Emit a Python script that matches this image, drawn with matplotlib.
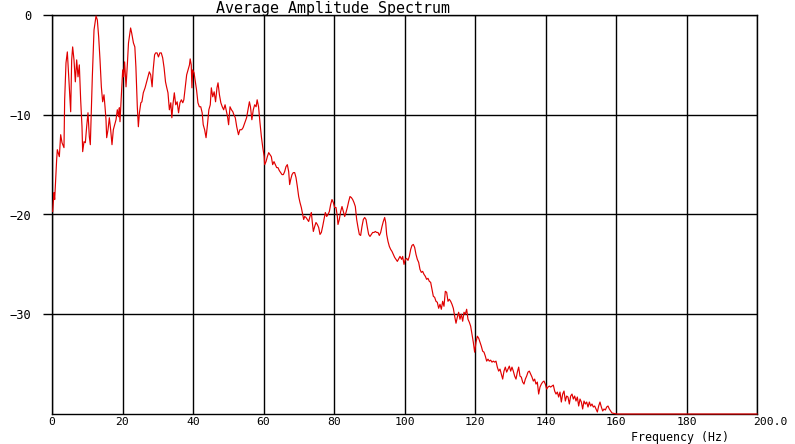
import matplotlib
matplotlib.use("Agg")
import matplotlib.pyplot as plt
import numpy as np

# ---- data ----
freq_0_20 = [0.19, 0.57, 0.76, 1.32, 1.51, 2.08, 2.46, 2.84, 3.40, 3.59, 3.97, 4.35, 4.63, 4.92, 5.30,
             5.58, 5.86, 6.24, 6.62, 7.00, 7.38, 7.75, 8.13, 8.51, 8.70, 9.08, 9.46, 9.83, 10.21, 10.59,
             10.87, 11.16, 11.44, 11.92, 12.49, 12.86, 13.24, 13.62, 14.00, 14.37, 14.75, 15.04, 15.32,
             15.51, 15.89, 16.27, 16.64, 17.02, 17.40, 17.78, 18.16, 18.53, 18.91, 19.10, 19.29, 19.67, 20.05]
amp_0_20 = [-19.7, -17.8, -18.5, -14.5, -13.5, -14.2, -12.0, -12.8, -13.3, -8.5, -4.8, -3.7, -5.5, -7.2, -9.7,
            -4.5, -3.2, -4.5, -6.7, -4.5, -6.2, -5.0, -8.5, -11.2, -13.7, -12.7, -12.8, -11.2, -9.8, -12.2,
            -13.0, -9.5, -6.2, -1.5, -0.1, -0.5, -2.2, -4.5, -7.2, -8.7, -8.0, -9.2, -10.5,
            -12.3, -11.5, -10.3, -11.5, -13.0, -11.5, -11.0, -10.5, -9.5, -10.2, -9.3, -10.7, -8.2, -5.5]

freq_20_60 = [20.3, 20.6, 21.0, 21.4, 21.7, 22.3, 22.6, 23.1, 23.5, 23.8, 24.2, 24.5, 24.8, 25.2, 25.5,
              25.9, 26.4, 27.0, 27.6, 28.0, 28.4, 28.7, 29.1, 29.4, 29.8, 30.2, 30.6, 31.0, 31.4, 31.8,
              32.2, 32.5, 32.9, 33.3, 33.7, 34.0, 34.3, 34.7, 35.1, 35.5, 35.9, 36.3, 36.7, 37.1, 37.4,
              37.8, 38.2, 38.6, 39.0, 39.2, 39.5, 39.7, 39.9, 40.3, 40.7, 41.0, 41.4, 41.8, 42.2, 42.6,
              42.9, 43.3, 43.7, 44.1, 44.5, 44.9, 45.2, 45.6, 46.0, 46.4, 46.8, 47.1, 47.5, 47.9, 48.3,
              48.7, 49.1, 49.4, 49.8, 50.1, 50.5, 50.9, 51.3, 51.6, 52.0, 52.4, 52.9, 53.3, 53.8, 54.2,
              54.7, 55.2, 55.6, 56.0, 56.3, 56.7, 57.1, 57.5, 57.9, 58.2, 58.6, 59.0, 59.4, 59.8, 60.2]
amp_20_60 = [-6.2, -4.7, -7.2, -4.8, -2.8, -1.3, -1.8, -2.8, -3.2, -5.2, -9.2, -11.2, -9.8, -8.8, -8.7,
             -7.8, -7.3, -6.5, -5.7, -6.0, -7.2, -5.5, -4.0, -3.8, -3.8, -4.2, -3.8, -3.8, -4.3, -5.3,
             -6.7, -7.2, -7.8, -9.5, -8.8, -10.3, -9.0, -7.8, -9.0, -8.7, -9.8, -8.8, -8.5, -8.8, -8.5,
             -7.2, -6.0, -5.5, -5.0, -4.4, -5.0, -7.3, -5.5, -5.8, -6.8, -7.5, -8.8, -9.2, -9.2, -9.8,
             -11.0, -11.5, -12.3, -11.0, -9.5, -9.0, -7.3, -8.2, -7.7, -8.7, -7.3, -6.8, -8.0, -8.8, -9.2,
             -9.5, -9.0, -9.5, -10.2, -11.0, -9.2, -9.5, -9.7, -10.0, -10.3, -11.2, -12.0, -11.5, -11.5, -11.3,
             -10.8, -10.3, -9.5, -8.7, -9.2, -10.5, -9.5, -9.0, -9.2, -8.5, -9.2, -10.8, -12.2, -13.3, -14.2]

freq_60_98 = [60.33, 60.71, 61.09, 61.47, 61.84, 62.22, 62.60, 62.98, 63.36, 63.74, 64.11, 64.49, 64.87,
              65.25, 65.63, 66.00, 66.38, 66.76, 67.14, 67.42, 67.71, 68.09, 68.46, 68.84, 69.22, 69.60,
              69.98, 70.35, 70.73, 71.11, 71.40, 71.68, 72.06, 72.44, 72.81, 73.19, 73.57, 73.85, 74.14,
              74.52, 74.89, 75.27, 75.65, 76.03, 76.41, 76.78, 77.16, 77.54, 77.92, 78.30, 78.68, 79.05,
              79.43, 79.81, 80.19, 80.57, 80.95, 81.13, 81.51, 81.89, 82.27, 82.65, 83.03, 83.40, 83.78,
              84.16, 84.54, 84.92, 85.30, 85.67, 86.05, 86.43, 86.81, 87.19, 87.56, 87.94, 88.32, 88.70,
              89.08, 89.46, 89.83, 90.21, 90.59, 90.97, 91.35, 91.73, 92.10, 92.48, 92.86, 93.24, 93.62,
              93.99, 94.37, 94.66, 94.94, 95.32, 95.70, 96.08, 96.45, 96.83, 97.21, 97.59, 97.97]
amp_60_98 = [-15.0, -14.7, -14.2, -13.8, -14.0, -14.2, -15.0, -14.7, -15.0, -15.3, -15.3, -15.6, -15.8,
             -16.0, -16.0, -15.7, -15.2, -15.0, -15.7, -17.0, -16.5, -16.0, -15.8, -15.8, -16.3, -17.2,
             -18.2, -18.8, -19.3, -20.0, -20.5, -20.2, -20.3, -20.5, -20.7, -20.2, -19.8, -20.8, -21.7,
             -21.2, -20.8, -21.0, -21.3, -22.0, -21.8, -21.2, -20.5, -19.8, -20.2, -20.0, -19.7, -19.0,
             -18.5, -18.8, -19.3, -19.3, -20.2, -21.0, -20.5, -19.7, -19.2, -19.7, -20.2, -19.8, -19.3,
             -18.7, -18.2, -18.3, -18.5, -18.8, -19.2, -20.5, -21.3, -22.0, -22.1, -21.2, -20.5, -20.3,
             -20.5, -21.3, -22.0, -22.2, -22.0, -21.8, -21.8, -21.7, -21.8, -21.8, -22.1, -21.8, -21.2,
             -20.7, -20.3, -20.8, -22.0, -22.7, -23.2, -23.5, -23.7, -24.0, -24.3, -24.5, -24.7]

freq_98_160 = [98.72, 99.19, 99.48, 99.86, 100.23, 100.61, 100.99, 101.37, 101.75, 102.12, 102.50, 102.88,
               103.26, 103.64, 104.02, 104.39, 104.77, 105.15, 105.53, 105.91, 106.28, 106.66, 107.04,
               107.42, 107.80, 108.18, 108.55, 108.93, 109.31, 109.69, 110.07, 110.45, 110.82, 111.20,
               111.58, 111.96, 112.34, 112.71, 113.09, 113.47, 113.85, 114.23, 114.61, 114.98, 115.36,
               115.74, 116.12, 116.50, 116.88, 117.25, 117.63, 118.01, 118.39, 118.77, 119.14, 119.52,
               119.90, 120.28, 120.66, 121.04, 121.41, 121.79, 122.17, 122.55, 122.93, 123.31, 123.68,
               124.06, 124.44, 124.82, 125.20, 125.58, 125.95, 126.33, 126.71, 127.09, 127.47, 127.85,
               128.22, 128.60, 128.98, 129.36, 129.74, 130.12, 130.49, 130.87, 131.25, 131.63, 132.01,
               132.39, 132.76, 133.14, 133.52, 133.90, 134.28, 134.65, 135.03, 135.41, 135.79, 136.17,
               136.55, 136.92, 137.30, 137.68, 138.06, 138.44, 138.82, 139.19, 139.57, 139.95, 140.33,
               140.71, 141.09, 141.46, 141.84, 142.22, 142.60, 142.98, 143.36, 143.73, 144.11, 144.49,
               144.87, 145.25, 145.63, 146.00, 146.38, 146.76, 147.14, 147.52, 147.90, 148.27, 148.65,
               149.03, 149.41, 149.79, 150.17, 150.54, 150.92, 151.30, 151.68, 152.06, 152.44, 152.81,
               153.19, 153.57, 153.95, 154.33, 154.71, 155.08, 155.46, 155.84, 156.22, 156.60, 156.98,
               157.35, 157.73, 158.11, 158.49, 158.86, 160.2, 200.0]
amp_98_160 = [-24.2, -24.5, -24.2, -25.0, -24.5, -24.4, -24.6, -24.2, -23.5, -23.1, -23.0, -23.3,
              -24.0, -24.5, -24.8, -25.5, -25.8, -25.7, -26.0, -26.2, -26.5, -26.4, -26.7,
              -26.8, -27.5, -28.2, -28.3, -28.7, -28.8, -29.4, -29.0, -29.5, -28.7, -29.2,
              -27.7, -27.8, -28.7, -28.5, -28.7, -29.0, -29.4, -30.2, -30.9, -30.3, -29.8,
              -30.5, -30.0, -30.7, -29.8, -30.0, -29.5, -30.5, -30.8, -31.2, -32.0, -32.8,
              -33.8, -32.8, -32.2, -32.4, -32.8, -33.2, -33.7, -33.8, -34.2, -34.7, -34.5,
              -34.7, -34.6, -34.8, -34.7, -34.8, -34.7, -35.3, -35.7, -35.5, -36.0, -36.5,
              -35.7, -35.3, -35.8, -35.5, -35.2, -35.7, -35.3, -35.7, -36.2, -36.5, -35.8,
              -35.3, -36.2, -36.3, -36.8, -37.0, -36.5, -36.2, -35.8, -35.7, -36.0, -36.3,
              -36.7, -36.5, -37.0, -36.8, -38.0, -37.3, -37.0, -36.8, -36.7, -37.0, -37.5,
              -37.3, -37.2, -37.3, -37.2, -37.1, -37.7, -38.0, -37.8, -38.3, -37.8, -38.8,
              -38.0, -37.7, -38.7, -38.2, -38.3, -39.0, -38.2, -38.0, -38.5, -38.2, -38.7,
              -38.3, -39.2, -38.5, -38.8, -39.5, -38.7, -39.0, -38.8, -39.3, -38.8, -39.2,
              -39.0, -39.3, -39.2, -39.5, -39.8, -39.2, -38.8, -39.3, -39.7, -39.5, -39.6,
              -39.3, -39.2, -39.5, -39.7, -39.9, -40.0, -40.0]

x_ticks = [0, 20, 40, 60, 80, 100, 120, 140, 160, 180, 200]
x_tick_labels = ['0', '20', '40', '60', '80', '100', '120', '140', '160', '180', '']
y_ticks = [-30, -20, -10, 0]
y_tick_labels = ['\u221230', '\u221220', '\u221210', '0']
title = 'Average Amplitude Spectrum'
xlabel = 'Frequency (Hz)'

freq = np.concatenate([freq_0_20, freq_20_60, freq_60_98, freq_98_160])
amp = np.concatenate([amp_0_20, amp_20_60, amp_60_98, amp_98_160])

# ---- figure ----
W, H = 795, 444
fig = plt.figure(figsize=(W / 100, H / 100), dpi=100)
fig.patch.set_facecolor('white')
ax = fig.add_axes([52 / W, 30 / H, 705 / W, 399 / H])
ax.set_facecolor('white')

mono = 'DejaVu Sans Mono'

ax.set_xlim(0, 200)
ax.set_ylim(-40, 0)

for xv in x_ticks:
    ax.axvline(xv, color='black', lw=1.0, zorder=1)
for yv in y_ticks:
    ax.axhline(yv, color='black', lw=1.0, zorder=1)

for s in ax.spines.values():
    s.set_color('black')
    s.set_linewidth(1.0)

ax.plot(freq, amp, color='#e00000', lw=0.85, zorder=3, clip_on=False)

ax.set_xticks(x_ticks)
ax.set_xticklabels(x_tick_labels, fontfamily=mono, fontsize=8.2)
ax.set_yticks(y_ticks)
ax.set_yticklabels(y_tick_labels, fontfamily=mono, fontsize=8.7)
ax.tick_params(axis='x', length=0, pad=2.4, colors='black')
ax.tick_params(axis='y', length=6.5, width=1.0, direction='out', pad=8.4, colors='black')

ax.annotate('200.0', xy=(200, -40), xycoords='data', xytext=(-3, -2.4),
            textcoords='offset points', ha='left', va='top',
            fontfamily=mono, fontsize=8.2, color='black')

fig.text(333.5 / W, 1 - 8 / H, title, ha='center', va='center',
         fontfamily=mono, fontsize=10.8, color='black')
fig.text(680 / W, 1 - 437.5 / H, xlabel, ha='center', va='center',
         fontfamily=mono, fontsize=8.4, color='black')

fig.savefig('out.png', dpi=100, facecolor='white')
